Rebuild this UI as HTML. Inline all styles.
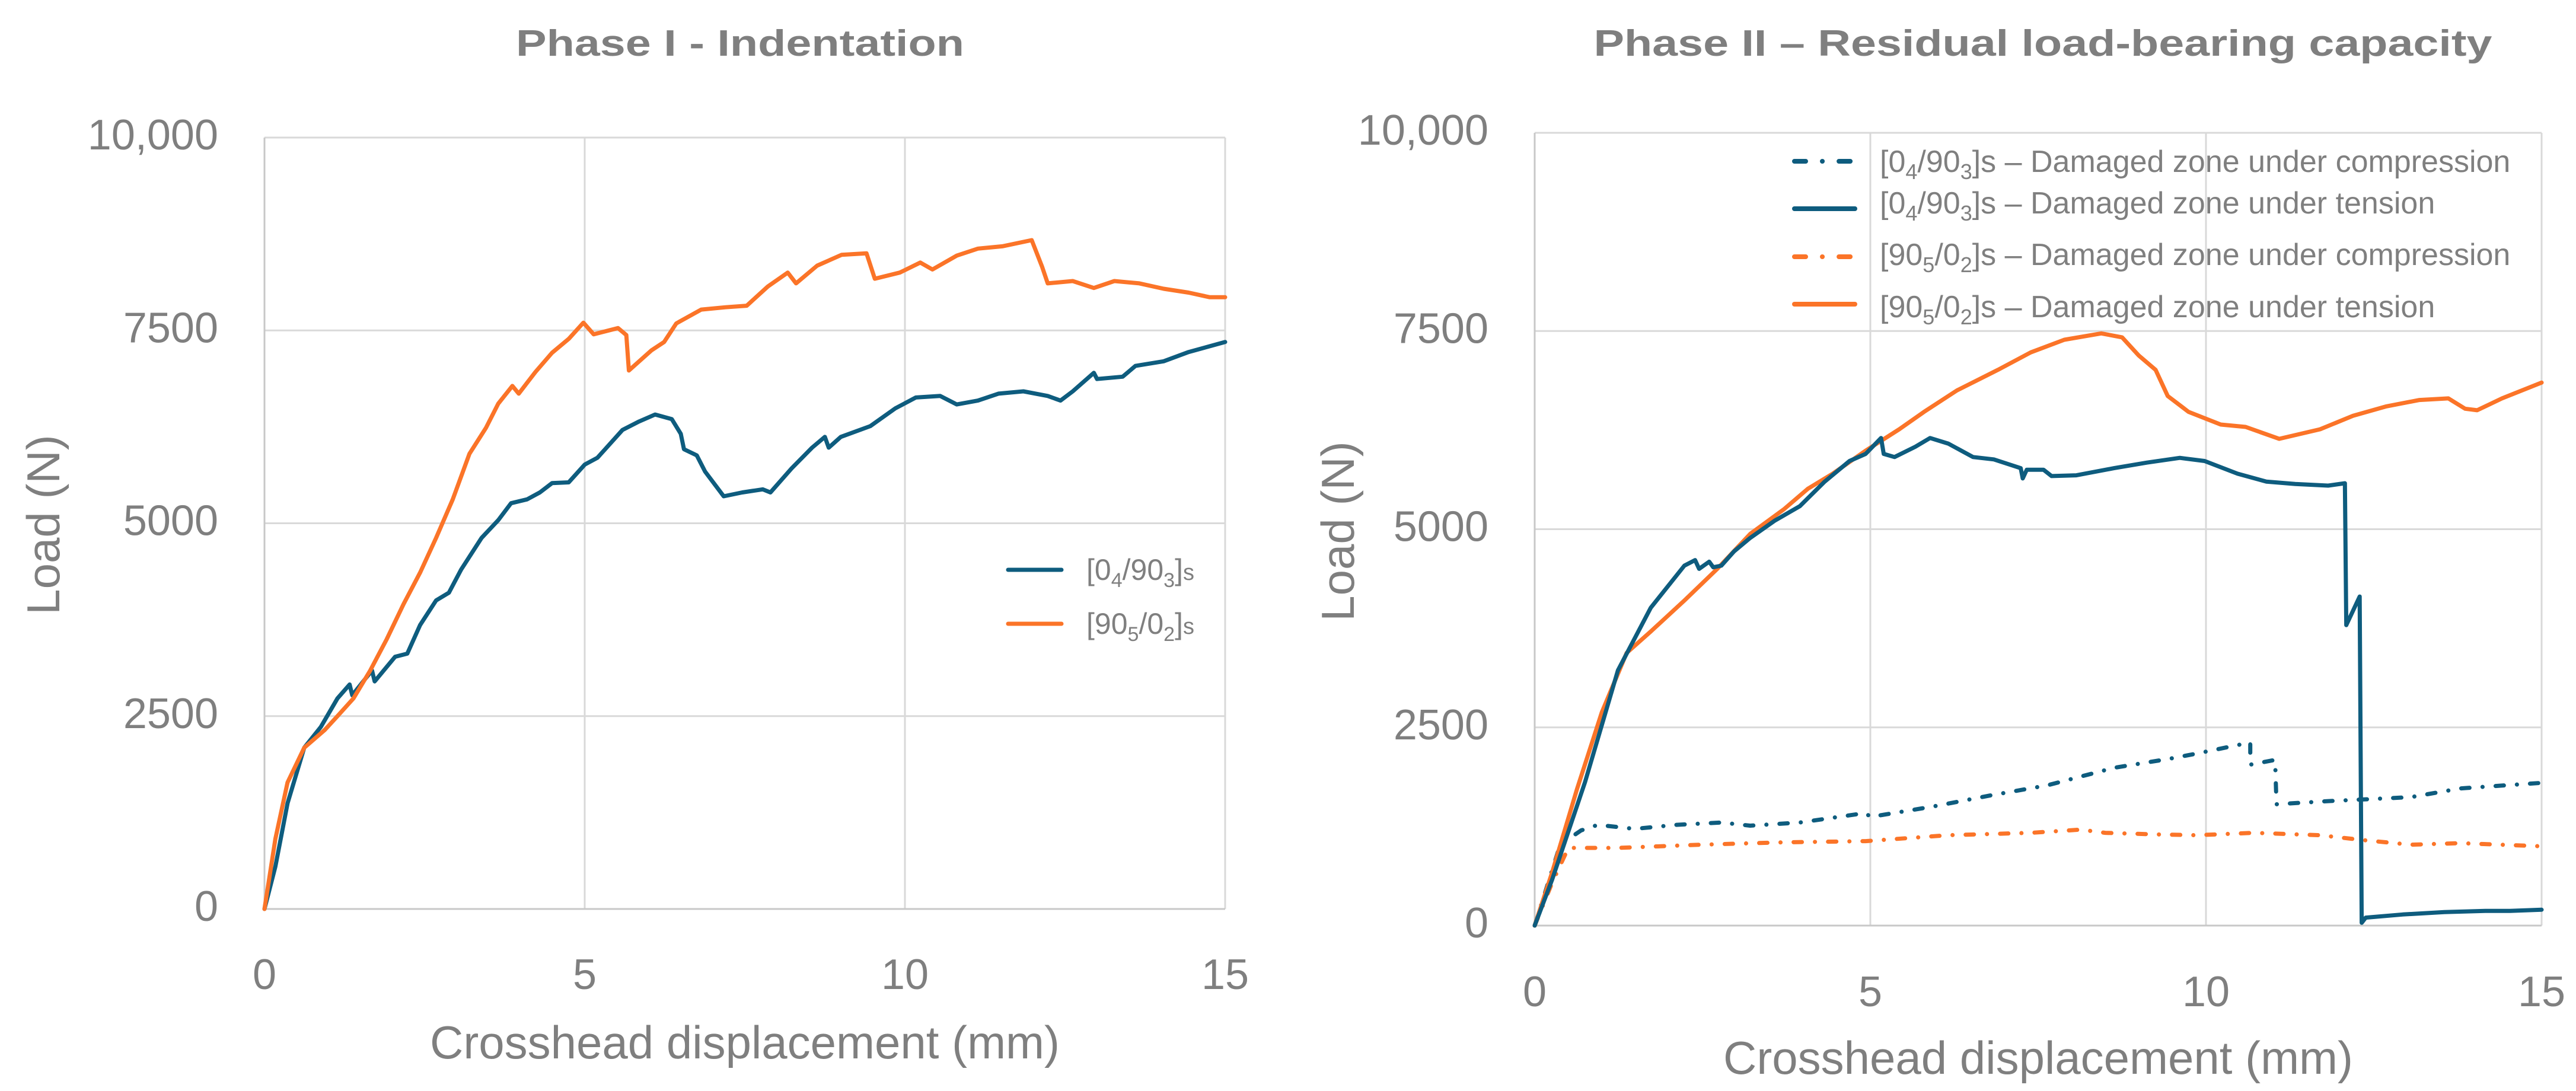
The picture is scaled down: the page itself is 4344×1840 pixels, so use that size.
<!DOCTYPE html>
<html><head><meta charset="utf-8"><style>
html,body{margin:0;padding:0;background:#fff;}
svg{display:block;}
text{font-family:"Liberation Sans",sans-serif;fill:#7f7f7f;}
</style></head><body>
<svg id="chart" width="4344" height="1840" viewBox="0 0 4344 1840" xmlns="http://www.w3.org/2000/svg">
<rect width="4344" height="1840" fill="#fff"/>
<g id="p1"></g>
<g id="p2"></g>
</svg>
<script>
const xTicks = [0, 5, 10, 15];
const yTicks = [0, 2500, 5000, 7500, 10000];
const yTickLabels = ["0", "2500", "5000", "7500", "10,000"];
const xTickLabels = ["0", "5", "10", "15"];

const p1BlueX = [0,0.17,0.36,0.62,0.88,1.14,1.33,1.37,1.59,1.68,1.72,2.04,2.23,2.43,2.68,2.88,3.07,3.39,3.65,3.85,4.1,4.3,4.49,4.75,5.0,5.2,5.59,5.85,6.1,6.36,6.5,6.55,6.75,6.88,7.17,7.46,7.78,7.9,8.23,8.55,8.75,8.81,9.0,9.46,9.85,10.17,10.55,10.81,11.14,11.46,11.85,12.23,12.43,12.62,12.95,13.0,13.4,13.6,14.04,14.43,15];
const p1BlueY = [0,550,1370,2090,2360,2730,2910,2770,3000,3090,2950,3270,3310,3680,4000,4100,4400,4810,5040,5260,5310,5400,5520,5530,5760,5850,6210,6320,6410,6350,6160,5960,5880,5670,5350,5400,5440,5400,5710,5980,6120,5980,6120,6260,6490,6630,6650,6540,6590,6680,6710,6650,6590,6710,6950,6870,6900,7040,7100,7220,7350];
const p1OrangeX = [0,0.17,0.36,0.62,0.94,1.14,1.39,1.65,1.91,2.17,2.43,2.68,2.94,3.2,3.46,3.65,3.87,3.97,4.23,4.49,4.75,4.98,5.14,5.52,5.65,5.69,6.04,6.24,6.43,6.82,7.2,7.53,7.86,8.17,8.3,8.63,9.01,9.4,9.53,9.92,10.24,10.43,10.81,11.14,11.52,11.98,12.14,12.23,12.62,12.95,13.27,13.66,14.04,14.43,14.76,15];
const p1OrangeY = [0,910,1640,2090,2320,2500,2730,3090,3500,3950,4360,4810,5310,5900,6240,6550,6780,6680,6960,7210,7390,7600,7450,7530,7440,6980,7240,7350,7590,7770,7800,7820,8070,8250,8110,8340,8480,8500,8170,8250,8380,8290,8470,8560,8590,8670,8330,8110,8140,8050,8140,8110,8040,7990,7930,7930];

const p2OrangeTX = [0,0.26,0.63,1.0,1.37,1.73,2.23,2.72,3.21,3.71,4.07,4.44,4.93,5.43,5.8,6.29,6.9,7.39,7.89,8.44,8.75,9.0,9.25,9.43,9.74,10.22,10.59,11.09,11.7,12.19,12.69,13.18,13.61,13.86,14.04,14.41,15];
const p2OrangeTY = [0,670,1720,2690,3440,3710,4100,4500,4940,5250,5510,5700,5990,6260,6480,6750,7010,7230,7390,7470,7420,7190,7010,6680,6480,6320,6290,6140,6260,6430,6550,6630,6650,6520,6500,6650,6850];
const p2BlueTX = [0,0.26,0.75,1.24,1.73,2.23,2.39,2.45,2.6,2.66,2.78,2.97,3.21,3.58,3.95,4.32,4.69,4.93,5.16,5.2,5.36,5.67,5.89,6.16,6.53,6.84,7.24,7.27,7.33,7.58,7.7,8.07,8.63,9.12,9.61,9.98,10.47,10.9,11.33,11.82,12.07,12.09,12.29,12.32,12.38,12.93,13.55,14.16,14.53,15];
const p2BlueTY = [0,580,1810,3220,4010,4540,4610,4500,4590,4520,4540,4720,4890,5110,5290,5600,5860,5950,6150,5950,5910,6040,6150,6080,5910,5880,5770,5640,5750,5750,5670,5680,5770,5840,5900,5860,5700,5600,5570,5550,5580,3790,4150,35,100,140,170,185,185,200];
const p2BlueCX = [0,0.38,0.69,0.94,1.49,2.1,2.78,3.21,3.95,4.93,5.0,5.92,6.78,7.64,8.63,9.43,9.86,10.66,10.66,11.03,11.05,11.82,12.32,13.05,13.79,15];
const p2BlueCY = [0,1020,1200,1270,1220,1270,1300,1260,1300,1420,1370,1500,1640,1770,1990,2100,2170,2310,2030,2090,1530,1570,1590,1620,1730,1800];
const p2OrangeCX = [0,0.26,0.5,1.24,2.47,3.71,4.93,6.16,7.39,8.13,8.5,9.24,9.86,10.71,11.7,12.32,13.05,13.79,15];
const p2OrangeCY = [0,540,980,980,1020,1050,1065,1140,1170,1210,1170,1150,1140,1170,1140,1080,1020,1040,1000];

const BLUE = "#0e5c7e", ORANGE = "#fb7428", NS = "http://www.w3.org/2000/svg";
function mk(tag, attrs, parent){const e=document.createElementNS(NS,tag);for(const k in attrs)e.setAttribute(k,attrs[k]);parent.appendChild(e);return e;}

function drawChart(g, cfg){
  const sx = v => cfg.x0 + (v/15)*(cfg.x1-cfg.x0);
  const sy = v => cfg.y0 - (v/10000)*(cfg.y0-cfg.y1);
  // grid
  yTicks.forEach((t,i)=>{
    const l = mk("line",{x1:cfg.x0,x2:cfg.x1,y1:sy(t),y2:sy(t),stroke:"#d9d9d9","stroke-width":3},g);
    
    
    const tx = mk("text",{x:cfg.yLabX,y:sy(t)+20,"text-anchor":"end","font-size":72},g);
    tx.textContent = yTickLabels[i];
    
    
  });
  xTicks.forEach((t,i)=>{
    const l = mk("line",{x1:sx(t),x2:sx(t),y1:cfg.y1,y2:cfg.y0,stroke:i==0?"#c8c8c8":"#d9d9d9","stroke-width":3},g);
    
    
    const tx = mk("text",{x:sx(t),y:cfg.xLabY,"text-anchor":"middle","font-size":72},g);
    tx.textContent = xTickLabels[i];
    
    
  });
  const bl = mk("line",{x1:cfg.x0,x2:cfg.x1,y1:cfg.y0,y2:cfg.y0,stroke:"#c8c8c8","stroke-width":3},g);
  
  
  cfg.series.forEach(s=>{
    const d = s.x.map((v,i)=>(i?"L":"M")+sx(v).toFixed(1)+","+sy(s.y[i]).toFixed(1)).join("");
    const p = mk("path",{d:d,fill:"none",stroke:s.color,"stroke-width":7,"stroke-linejoin":"round","stroke-linecap":"round"},g);
    if(s.dash) p.setAttribute("stroke-dasharray", s.dash);
    
    
  });
}

drawChart(document.getElementById("p1"),{x0:446,x1:2066,y0:1533,y1:232,yLabX:368,xLabY:1668,series:[
  {x:p1BlueX,y:p1BlueY,color:BLUE,name:"series-04-903s"},
  {x:p1OrangeX,y:p1OrangeY,color:ORANGE,name:"series-905-02s"}]});
drawChart(document.getElementById("p2"),{x0:2588,x1:4286,y0:1561,y1:224,yLabX:2510,xLabY:1697,series:[
  {x:p2BlueCX,y:p2BlueCY,color:BLUE,dash:"14 22 0.1 22",name:"series-04-903s-compression"},
  {x:p2OrangeCX,y:p2OrangeCY,color:ORANGE,dash:"14 22 0.1 22",name:"series-905-02s-compression"},
  {x:p2OrangeTX,y:p2OrangeTY,color:ORANGE,name:"series-905-02s-tension"},
  {x:p2BlueTX,y:p2BlueTY,color:BLUE,name:"series-04-903s-tension"}]});
</script>
<svg style="position:absolute;left:0;top:0" width="4344" height="1840" viewBox="0 0 4344 1840" xmlns="http://www.w3.org/2000/svg">
<text x="1248" y="94" text-anchor="middle" font-size="62" font-weight="bold" textLength="756" lengthAdjust="spacingAndGlyphs" style="fill:#7f7f7f">Phase I - Indentation</text>
<text x="3445" y="94" text-anchor="middle" font-size="62" font-weight="bold" textLength="1515" lengthAdjust="spacingAndGlyphs" style="fill:#7f7f7f">Phase II – Residual load-bearing capacity</text>
<text x="1256" y="1785" text-anchor="middle" font-size="78">Crosshead displacement (mm)</text>
<text x="3437" y="1811" text-anchor="middle" font-size="78">Crosshead displacement (mm)</text>
<text transform="translate(100,885) rotate(-90)" text-anchor="middle" font-size="78">Load (N)</text>
<text transform="translate(2283,896) rotate(-90)" text-anchor="middle" font-size="78">Load (N)</text>
<g>
<line x1="1700" x2="1790" y1="961" y2="961" stroke="#0e5c7e" stroke-width="7" stroke-linecap="round"/>
<text x="1832" y="978" font-size="50">[0<tspan font-size="34" dy="12">4</tspan><tspan dy="-12">/90</tspan><tspan font-size="34" dy="12">3</tspan><tspan dy="-12">]</tspan><tspan font-size="38">s</tspan></text>
<line x1="1700" x2="1790" y1="1052" y2="1052" stroke="#fb7428" stroke-width="7" stroke-linecap="round"/>
<text x="1832" y="1069" font-size="50">[90<tspan font-size="34" dy="12">5</tspan><tspan dy="-12">/0</tspan><tspan font-size="34" dy="12">2</tspan><tspan dy="-12">]</tspan><tspan font-size="38">s</tspan></text>
</g>
<g font-size="52">
<line x1="3026" x2="3128" y1="272" y2="272" stroke="#0e5c7e" stroke-width="8" stroke-linecap="round" stroke-dasharray="19 28 0.1 28"/>
<text x="3170" y="290">[0<tspan font-size="36" dy="12">4</tspan><tspan dy="-12">/90</tspan><tspan font-size="36" dy="12">3</tspan><tspan dy="-12">]s – Damaged zone under compression</tspan></text>
<line x1="3026" x2="3128" y1="352" y2="352" stroke="#0e5c7e" stroke-width="8" stroke-linecap="round"/>
<text x="3170" y="360">[0<tspan font-size="36" dy="12">4</tspan><tspan dy="-12">/90</tspan><tspan font-size="36" dy="12">3</tspan><tspan dy="-12">]s – Damaged zone under tension</tspan></text>
<line x1="3026" x2="3128" y1="433" y2="433" stroke="#fb7428" stroke-width="8" stroke-linecap="round" stroke-dasharray="19 28 0.1 28"/>
<text x="3170" y="447">[90<tspan font-size="36" dy="12">5</tspan><tspan dy="-12">/0</tspan><tspan font-size="36" dy="12">2</tspan><tspan dy="-12">]s – Damaged zone under compression</tspan></text>
<line x1="3026" x2="3128" y1="513" y2="513" stroke="#fb7428" stroke-width="8" stroke-linecap="round"/>
<text x="3170" y="535">[90<tspan font-size="36" dy="12">5</tspan><tspan dy="-12">/0</tspan><tspan font-size="36" dy="12">2</tspan><tspan dy="-12">]s – Damaged zone under tension</tspan></text>
</g>
</svg>
</body></html>
